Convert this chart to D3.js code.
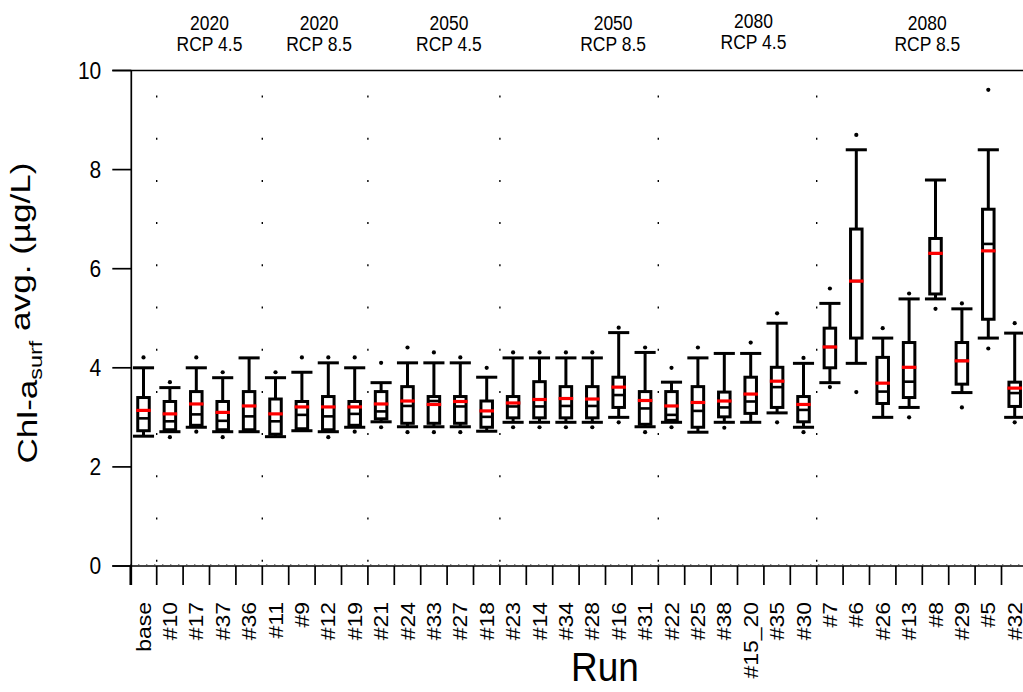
<!DOCTYPE html>
<html lang="en">
<head>
    <meta charset="UTF-8">
    <title>Chl-a surface average by run</title>
    <script src="https://cdn.jsdelivr.net/npm/d3@7"></script>
    <style>
        body { margin: 0; background: #fff; }
        text { font-family: "Liberation Sans", Arial, sans-serif; fill: #000; }
    </style>
</head>
<body>

<script>

    // Data ////////////////////////////////////
    var runs = ['base', '#10', '#17', '#37', '#36', '#11', '#9', '#12', '#19', '#21', '#24', '#33', '#27', '#18',
        '#23', '#14', '#34', '#28', '#16', '#31', '#22', '#25', '#38', '#15_20', '#35', '#30',
        '#7', '#6', '#26', '#13', '#8', '#29', '#5', '#32'];

    var whiskerLow = [2.62, 2.71, 2.80, 2.71, 2.71, 2.61, 2.73, 2.71, 2.80, 2.91, 2.81, 2.81, 2.81, 2.72,
        2.90, 2.90, 2.90, 2.90, 3.00, 2.81, 2.90, 2.70, 2.90, 2.90, 3.09, 2.80,
        3.70, 4.09, 3.00, 3.20, 5.39, 3.50, 4.60, 3.00];
    var q1 = [2.73, 2.75, 2.84, 2.75, 2.75, 2.66, 2.77, 2.75, 2.84, 2.97, 2.88, 2.88, 2.88, 2.80,
        2.99, 2.99, 2.99, 2.99, 3.20, 2.86, 2.94, 2.80, 3.01, 3.08, 3.20, 2.91,
        4.00, 4.60, 3.28, 3.40, 5.49, 3.67, 4.98, 3.22];
    var median = [2.98, 2.92, 3.06, 2.93, 3.02, 2.92, 3.05, 3.02, 3.07, 3.12, 3.23, 3.33, 3.22, 3.01,
        3.22, 3.22, 3.23, 3.23, 3.45, 3.18, 3.05, 3.13, 3.20, 3.32, 3.61, 3.15,
        4.42, 5.75, 3.52, 3.72, 6.31, 4.14, 6.50, 3.49];
    var q3 = [3.40, 3.32, 3.52, 3.32, 3.52, 3.37, 3.32, 3.42, 3.32, 3.52, 3.62, 3.42, 3.42, 3.33,
        3.42, 3.72, 3.62, 3.62, 3.81, 3.52, 3.52, 3.62, 3.51, 3.81, 4.01, 3.42,
        4.80, 6.80, 4.21, 4.51, 6.61, 4.51, 7.20, 3.71];
    var whiskerHigh = [4.00, 3.60, 4.00, 3.80, 4.20, 3.80, 3.91, 4.10, 4.00, 3.70, 4.10, 4.10, 4.10, 3.81,
        4.20, 4.20, 4.20, 4.20, 4.71, 4.31, 3.71, 4.20, 4.29, 4.29, 4.90, 4.09,
        5.30, 8.40, 4.60, 5.39, 7.79, 5.19, 8.40, 4.70];
    var meanValue = [3.14, 3.07, 3.27, 3.10, 3.23, 3.07, 3.21, 3.21, 3.21, 3.27, 3.33, 3.26, 3.32, 3.13,
        3.29, 3.36, 3.38, 3.37, 3.61, 3.34, 3.23, 3.30, 3.33, 3.47, 3.73, 3.26,
        4.42, 5.75, 3.69, 4.01, 6.31, 4.14, 6.36, 3.59];
    var outlierHigh = [4.21, 3.71, 4.21, 3.91, null, 3.91, 4.21, 4.21, 4.21, 4.10, 4.41, 4.31, 4.21, 4.00,
        4.31, 4.31, 4.31, 4.31, 4.81, 4.41, 4.00, 4.41, null, 4.51, 5.10, 4.20,
        5.60, 8.70, 4.80, 5.50, null, 5.30, 9.61, 4.90];
    var outlierLow = [null, 2.60, 2.71, 2.60, null, null, null, 2.60, 2.71, 2.80, 2.70, 2.70, 2.70, null,
        2.80, 2.80, 2.80, 2.80, 2.90, 2.70, 2.80, null, 2.79, null, 2.90, 2.70,
        3.61, 3.51, null, 3.00, 5.19, 3.20, 4.39, 2.90];

    // scenario groups (first line, second line, member runs)
    var groupYear = ['2020', '2020', '2050', '2050', '2080', '2080'];
    var groupScenario = ['RCP 4.5', 'RCP 8.5', 'RCP 4.5', 'RCP 8.5', 'RCP 4.5', 'RCP 8.5'];
    var groupRuns = [
        ['#10', '#17', '#37', '#36'],
        ['#11', '#9', '#12', '#19'],
        ['#21', '#24', '#33', '#27', '#18'],
        ['#23', '#14', '#34', '#28', '#16', '#31'],
        ['#22', '#25', '#38', '#15_20', '#35', '#30'],
        ['#7', '#6', '#26', '#13', '#8', '#29', '#5', '#32']
    ];

    var yTicks = [0, 2, 4, 6, 8, 10];

    // Layout ////////////////////////////////////
    var width = 1023;
    var height = 692;
    var left = 130.3;
    var bandW = 26.4;
    var stretch = 1.12;             // the source picture is a bit taller than wide
    var groupLabelShift = [0, 4, 15, 34, 16, 5];
    var groupLabelLift = [0, 0, 0, 0, 2, 0];

    var x = d3.scaleBand().domain(runs).range([left, left + runs.length * bandW]).paddingInner(0).paddingOuter(0);
    var y = d3.scaleLinear().domain([0, 10]).range([566, 70.5]);

    var svg = d3.select('body').append('svg')
            .attr('width', width).attr('height', height);

    var cx = function (i) { return x(runs[i]) + x.bandwidth() / 2; };

    //________________________________________________
    // Dotted separators between scenario groups
    //________________________________________________
    var grid = svg.append('g').attr('class', 'grid');
    grid.selectAll('line.sep')
            .data(groupRuns)
            .enter().append('line')
            .attr('class', 'sep')
            .attr('x1', function (d) { return x(d[0]); })
            .attr('x2', function (d) { return x(d[0]); })
            .attr('y1', y(0) - 4.3)
            .attr('y2', y(10))
            .style('stroke', '#000')
            .style('stroke-width', 1.4)
            .style('stroke-dasharray', '2,40.2');

    grid.append('line')
            .attr('x1', left).attr('x2', width)
            .attr('y1', y(0) - 1.5).attr('y2', y(0) - 1.5)
            .style('stroke', '#555').style('stroke-width', 1)
            .style('stroke-dasharray', '1,7');

    //________________________________________________
    // Axes
    //________________________________________________
    var axes = svg.append('g').attr('class', 'axes');

    // top frame and x axis line (run from the y tick start)
    [0, 10].forEach(function (v) {
        axes.append('line')
                .attr('x1', left - 18).attr('x2', width)
                .attr('y1', y(v)).attr('y2', y(v))
                .style('stroke', '#000').style('stroke-width', 1.7);
    });

    axes.append('line')
            .attr('x1', left + 1).attr('x2', left + 1)
            .attr('y1', y(10)).attr('y2', y(0) + 19)
            .style('stroke', '#000').style('stroke-width', 1.7);

    axes.selectAll('line.ytick')
            .data(yTicks)
            .enter().append('line')
            .attr('class', 'ytick')
            .attr('x1', left - 18).attr('x2', left + 1)
            .attr('y1', function (d) { return y(d); })
            .attr('y2', function (d) { return y(d); })
            .style('stroke', '#000').style('stroke-width', 1.7);

    axes.selectAll('text.ylab')
            .data(yTicks)
            .enter().append('text')
            .attr('class', 'ylab')
            .attr('transform', function (d) {
                return 'translate(' + (left - 29) + ',' + y(d) + ') scale(1,' + stretch + ')';
            })
            .attr('dy', '0.35em')
            .style('text-anchor', 'end')
            .style('font-size', '21px')
            .text(function (d) { return d; });

    // x ticks sit on the band edges
    var edges = runs.map(function (r) { return x(r); }).concat([x(runs[runs.length - 1]) + x.bandwidth()]);
    axes.selectAll('line.xtick')
            .data(edges)
            .enter().append('line')
            .attr('class', 'xtick')
            .attr('x1', function (d) { return d; })
            .attr('x2', function (d) { return d; })
            .attr('y1', y(0)).attr('y2', y(0) + 19)
            .style('stroke', '#000').style('stroke-width', 1.7);

    axes.selectAll('text.xlab')
            .data(runs)
            .enter().append('text')
            .attr('class', 'xlab')
            .attr('transform', function (d, i) {
                return 'translate(' + cx(i) + ',' + (y(0) + 36) + ') rotate(-90) scale(' + stretch + ',1)';
            })
            .attr('dy', '0.35em')
            .style('text-anchor', 'end')
            .style('font-size', '20.5px')
            .text(function (d) { return d; });

    // axis titles
    var yTitle = svg.append('text')
            .attr('transform', 'translate(37,313) rotate(-90) scale(1.3,1)')
            .style('text-anchor', 'middle')
            .style('font-size', '27px');
    yTitle.append('tspan').text('Chl-a');
    yTitle.append('tspan').attr('dy', '0.3em').style('font-size', '18px').text('surf');
    yTitle.append('tspan').attr('dy', '-0.45em').text('\u00a0avg. (µg/L)');

    svg.append('text')
            .attr('transform', 'translate(605,681) scale(1,' + stretch + ')')
            .style('text-anchor', 'middle')
            .style('font-size', '37px')
            .text('Run');

    // scenario headings
    var heads = svg.append('g').attr('class', 'heads')
            .selectAll('g')
            .data(groupRuns)
            .enter().append('g')
            .attr('transform', function (d, i) {
                var gx = (x(d[0]) + x(d[d.length - 1]) + x.bandwidth()) / 2 + groupLabelShift[i];
                return 'translate(' + gx + ',' + (-groupLabelLift[i]) + ')';
            });
    heads.append('text')
            .attr('transform', 'translate(0,30) scale(1,' + stretch + ')')
            .style('text-anchor', 'middle').style('font-size', '17.5px')
            .text(function (d, i) { return groupYear[i]; });
    heads.append('text')
            .attr('transform', 'translate(0,51) scale(1,' + stretch + ')')
            .style('text-anchor', 'middle').style('font-size', '17.5px')
            .text(function (d, i) { return groupScenario[i]; });

    //________________________________________________
    // Box plots
    //________________________________________________
    var boxW = x.bandwidth() * 0.55;
    var capW = x.bandwidth() * 0.8;
    var lw = 3;

    var box = svg.append('g').attr('class', 'boxes')
            .selectAll('g.box')
            .data(runs)
            .enter().append('g')
            .attr('class', 'box')
            .attr('transform', function (d, i) { return 'translate(' + cx(i) + ',0)'; });

    box.append('line')
            .attr('x1', 0).attr('x2', 0)
            .attr('y1', function (d, i) { return y(whiskerLow[i]); })
            .attr('y2', function (d, i) { return y(whiskerHigh[i]); })
            .style('stroke', '#000').style('stroke-width', lw);

    [whiskerLow, whiskerHigh].forEach(function (arr) {
        box.append('line')
                .attr('x1', -capW / 2).attr('x2', capW / 2)
                .attr('y1', function (d, i) { return y(arr[i]); })
                .attr('y2', function (d, i) { return y(arr[i]); })
                .style('stroke', '#000').style('stroke-width', lw);
    });

    box.append('rect')
            .attr('x', -boxW / 2 + lw / 2)
            .attr('width', boxW - lw)
            .attr('y', function (d, i) { return y(q3[i]); })
            .attr('height', function (d, i) { return y(q1[i]) - y(q3[i]); })
            .style('fill', '#fff').style('stroke', '#000').style('stroke-width', lw);

    box.append('line')
            .attr('x1', -boxW / 2 + lw / 2).attr('x2', boxW / 2 - lw / 2)
            .attr('y1', function (d, i) { return y(median[i]); })
            .attr('y2', function (d, i) { return y(median[i]); })
            .style('stroke', '#000').style('stroke-width', 2.6);

    box.append('line')
            .attr('x1', -boxW / 2).attr('x2', boxW / 2)
            .attr('y1', function (d, i) { return y(meanValue[i]); })
            .attr('y2', function (d, i) { return y(meanValue[i]); })
            .style('stroke', '#ff0000').style('stroke-width', 3.2);

    [outlierLow, outlierHigh].forEach(function (arr) {
        box.filter(function (d, i) { return arr[i] !== null; })
                .append('circle')
                .attr('cx', 0)
                .attr('cy', function (d) { return y(arr[runs.indexOf(d)]); })
                .attr('r', 2.1)
                .style('fill', '#000');
    });

</script>

</body>
</html>
